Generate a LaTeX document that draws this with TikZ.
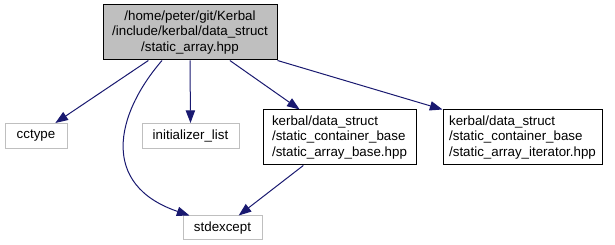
\documentclass[tikz,border=0pt]{standalone}
\usepackage{fontspec}
\setmainfont{Liberation Sans}
\usetikzlibrary{arrows.meta,calc}
\definecolor{edgeblue}{HTML}{191970}
\definecolor{boxgray}{HTML}{BFBFBF}
\tikzset{
  file/.style={draw=black, line width=0.75pt, inner sep=0pt, font=\fontsize{10pt}{11.5pt}\selectfont},
  mainfile/.style={file, fill=boxgray, align=center},
  headerfile/.style={file, align=left},
  sysfile/.style={draw=boxgray, line width=0.75pt, inner sep=0pt, font=\fontsize{10pt}{11.5pt}\selectfont},
  dep/.style={draw=edgeblue, line width=0.75pt, -{Triangle[length=9.5pt,width=7pt]}},
}
\begin{document}
\begin{tikzpicture}[x=0.75pt,y=-0.75pt]
  \useasboundingbox (0,0) rectangle (615,245);
  \node[mainfile, minimum width=174*0.75pt, minimum height=55*0.75pt] (top) at (190,32.5)
    {/home/peter/git/Kerbal\\/include/kerbal/data\_struct\\/static\_array.hpp};
  \node[sysfile, minimum width=62*0.75pt, minimum height=25*0.75pt] (cctype) at (36,136) {cctype};
  \node[sysfile, minimum width=97*0.75pt, minimum height=25*0.75pt] (init) at (190.5,136) {initializer\_list};
  \node[headerfile, minimum width=153*0.75pt, minimum height=55*0.75pt] (base) at (339.5,137.5)
    {kerbal/data\_struct\\/static\_container\_base\\/static\_array\_base.hpp};
  \node[headerfile, minimum width=159*0.75pt, minimum height=55*0.75pt] (iter) at (522.5,137.5)
    {kerbal/data\_struct\\/static\_container\_base\\/static\_array\_iterator.hpp};
  \node[sysfile, minimum width=79*0.75pt, minimum height=24*0.75pt] (std) at (222.5,228) {stdexcept};

  \draw[dep] (top) -- (cctype);
  \draw[dep] (top.south) -- (init.north);
  \draw[dep] ($(top.south)+(-28,0)$) .. controls (115,115) and (100,185) .. ($(std.north west)+(7,0)$);
  \draw[dep] (top) -- (base);
  \draw[dep] (top.south east) -- (iter.north west);
  \draw[dep] (base) -- (std);
\end{tikzpicture}
\end{document}
